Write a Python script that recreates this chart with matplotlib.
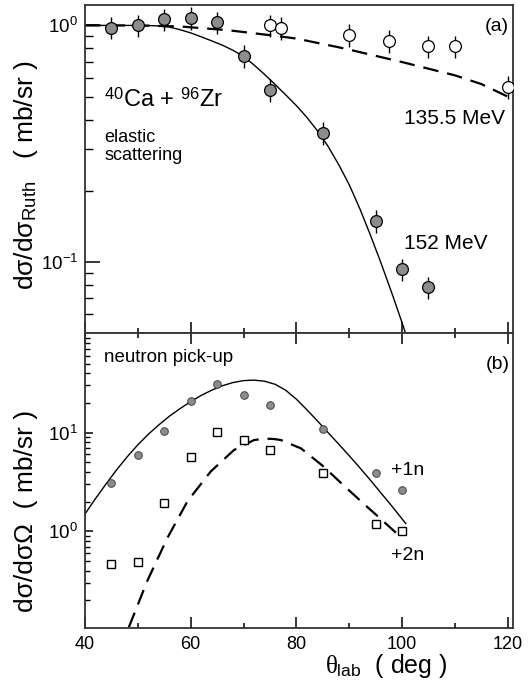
import matplotlib.pyplot as plt
from matplotlib.ticker import FixedLocator, LogLocator, MultipleLocator, NullFormatter

plt.rcParams['font.family'] = ['Liberation Sans', 'DejaVu Sans']
plt.rcParams['mathtext.fontset'] = 'custom'
plt.rcParams['mathtext.rm'] = 'Liberation Sans'
plt.rcParams['mathtext.it'] = 'Liberation Serif'
plt.rcParams['mathtext.bf'] = 'Liberation Sans:bold'

# (a) elastic scattering, ratio to Rutherford
theta_152 = [45, 50, 55, 60, 65, 70, 75, 85, 95, 100, 105]
ratio_152 = [0.98, 1.00, 1.06, 1.075, 1.03, 0.744, 0.534, 0.35, 0.149, 0.093, 0.078]
err_152 = [0.108, 0.11, 0.117, 0.118, 0.113, 0.082, 0.059, 0.039, 0.016, 0.010, 0.0086]

theta_135 = [75, 77, 90, 97.5, 105, 110, 120]
ratio_135 = [1.0, 0.975, 0.91, 0.86, 0.815, 0.815, 0.55]
err_135 = [0.11, 0.107, 0.10, 0.095, 0.09, 0.09, 0.06]

calc_x_152 = [40, 45, 50, 52, 54, 56, 58, 60, 62, 64, 66, 68, 70, 72, 74, 76,
              78, 80, 82, 84, 86, 88, 90, 92, 94, 96, 98, 100, 101]
calc_152 = [1.0, 1.0, 1.0, 0.999, 0.995, 0.984, 0.959, 0.93, 0.895, 0.86, 0.825,
            0.785, 0.74, 0.68, 0.62, 0.562, 0.508, 0.458, 0.408, 0.358, 0.308,
            0.258, 0.212, 0.168, 0.130, 0.0991, 0.0745, 0.0553, 0.0473]

calc_x_135 = [40, 50, 58, 67, 75.8, 80, 87.8, 90, 100, 110, 115, 120]
calc_135 = [1.0, 1.0, 0.99, 0.955, 0.905, 0.88, 0.81, 0.79, 0.70, 0.615, 0.565, 0.50]

# (b) neutron pick-up
theta_n = [45, 50, 55, 60, 65, 70, 75, 85, 95, 100]
xs_1n = [3.08, 5.9, 10.4, 20.7, 31.2, 23.8, 19.2, 10.8, 3.88, 2.64]
xs_2n = [0.466, 0.484, 1.94, 5.71, 10.2, 8.5, 6.67, 3.88, 1.18, 1.0]

calc_x_1n = [40, 42, 44, 46, 48, 50, 52, 54, 56, 58, 60, 62, 64, 66, 68, 70,
             72, 74, 76, 78, 80, 82, 84, 86, 88, 90, 92, 94, 96, 98, 100.7]
calc_1n = [1.50, 2.15, 3.03, 4.21, 5.70, 7.52, 9.64, 12.0, 14.7, 17.5, 20.6,
           23.8, 26.9, 29.8, 32.1, 33.6, 34.0, 33.1, 30.8, 26.8, 21.8, 17.0,
           13.1, 10.0, 7.66, 5.83, 4.41, 3.30, 2.45, 1.82, 1.20]

calc_x_2n = [48.3, 51.8, 55.6, 59.4, 63.8, 68.2, 72, 74, 75.8, 77.1, 80.9, 85,
             89, 92.9, 96, 99.2]
calc_2n = [0.107, 0.316, 0.86, 2.02, 4.04, 6.67, 8.4, 8.7, 8.6, 8.4, 6.9, 4.6,
           2.9, 1.87, 1.33, 0.93]

x_ticks = [40, 60, 80, 100, 120]

GRAY = '#8c8c8c'
DASH = (0, (7, 4))


def style_axes(ax, ymaj_len, ymin_len):
    for sp in ax.spines.values():
        sp.set_linewidth(1.3)
        sp.set_color('#333333')
    ax.set_xlim(40, 121)
    ax.xaxis.set_major_locator(FixedLocator(x_ticks))
    ax.xaxis.set_minor_locator(MultipleLocator(10))
    ax.tick_params(axis='x', which='major', direction='in', length=8, width=1.1,
                   labelsize=13, pad=6)
    ax.tick_params(axis='x', which='minor', direction='in', length=3.5, width=1.1)
    ax.tick_params(axis='y', which='major', direction='in', length=ymaj_len,
                   width=1.1, labelsize=13.5, pad=5, right=False)
    ax.tick_params(axis='y', which='minor', direction='in', length=ymin_len,
                   width=1.0, right=False)
    ax.yaxis.set_minor_locator(LogLocator(base=10, subs=range(2, 10)))
    ax.yaxis.set_minor_formatter(NullFormatter())


fig = plt.figure(figsize=(5.32, 6.87), dpi=100)
ax1 = fig.add_axes([0.1598, 0.5153, 0.8045, 0.4774])
ax2 = fig.add_axes([0.1598, 0.0859, 0.8045, 0.4294])

# --- panel (a)
ax1.set_yscale('log')
ax1.plot(calc_x_135, calc_135, color='black', lw=1.6, ls=DASH, zorder=2)
ax1.plot(calc_x_152, calc_152, color='black', lw=1.0, zorder=2)
ax1.errorbar(theta_152, ratio_152, yerr=err_152, fmt='o', ms=8.5, mfc=GRAY,
             mec='black', mew=0.9, ecolor='black', elinewidth=1.0, capsize=0,
             zorder=3)
ax1.errorbar(theta_135, ratio_135, yerr=err_135, fmt='o', ms=8.5, mfc='white',
             mec='black', mew=0.9, ecolor='black', elinewidth=1.0, capsize=0,
             zorder=3)
ax1.set_ylim(0.05, 1.22)
style_axes(ax1, 11, 6)
ax1.yaxis.set_major_locator(FixedLocator([0.1, 1.0]))
ax1.tick_params(axis='x', labelbottom=False, top=False)

ax1.text(120.3, 0.99, '(a)', ha='right', va='center', fontsize=14)
ax1.text(43.6, 0.454, '$^{40}$Ca + $^{96}$Zr', fontsize=17, va='baseline')
ax1.text(43.6, 0.365, 'elastic\nscattering', fontsize=13, va='top',
         linespacing=1.05)
ax1.text(100.3, 0.383, '135.5 MeV', fontsize=15, va='baseline')
ax1.text(100.3, 0.113, '152 MeV', fontsize=15, va='baseline')

# --- panel (b)
ax2.set_yscale('log')
ax2.plot(calc_x_1n, calc_1n, color='black', lw=1.0, zorder=2)
ax2.plot(calc_x_2n, calc_2n, color='black', lw=1.6, ls=DASH, zorder=2)
ax2.plot(theta_n, xs_1n, 'o', ms=5.5, mfc=GRAY, mec='#444444', mew=0.7, zorder=3)
ax2.plot(theta_n, xs_2n, 's', ms=6, mfc='white', mec='black', mew=1.0, zorder=3)
ax2.set_ylim(0.105, 102)
style_axes(ax2, 6, 3.5)
ax2.yaxis.set_major_locator(FixedLocator([1.0, 10.0]))
ax2.tick_params(axis='x', which='both', top=True)

ax2.text(120.4, 49, '(b)', ha='right', va='center', fontsize=14)
ax2.text(43.6, 51.5, 'neutron pick-up', fontsize=13.5, va='baseline')
ax2.text(97.9, 3.74, '+1n', fontsize=14, va='baseline')
ax2.text(97.9, 0.51, '+2n', fontsize=14, va='baseline')

# axis titles
fig.text(0.048, 0.745, 'dσ/dσ$_{\\rm Ruth}$   ( mb/sr )', rotation=90,
         ha='center', va='center', fontsize=19)
fig.text(0.048, 0.256, 'dσ/dσΩ  ( mb/sr )', rotation=90,
         ha='center', va='center', fontsize=19)
fig.text(0.727, 0.010, '$\\theta_{\\rm lab}$  ( deg )', ha='center',
         va='bottom', fontsize=18)

fig.savefig('out.png', dpi=100)
